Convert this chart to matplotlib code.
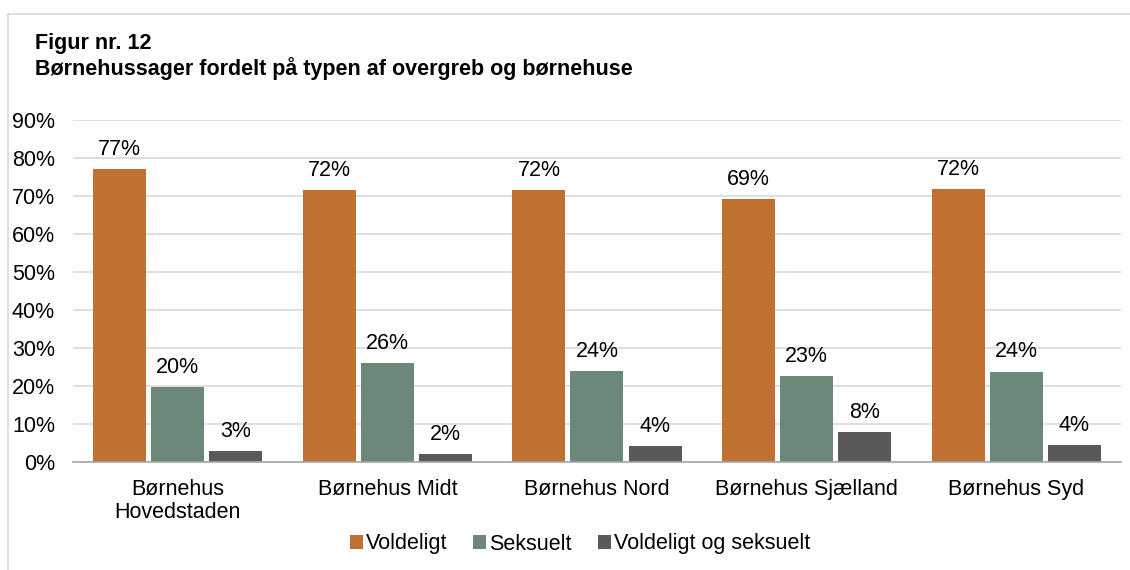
import matplotlib
matplotlib.use("Agg")
import matplotlib.pyplot as plt
import numpy as np
from matplotlib.lines import Line2D

plt.rcParams['font.family'] = ['Liberation Sans', 'DejaVu Sans']

categories = ['Børnehus\nHovedstaden', 'Børnehus Midt', 'Børnehus Nord', 'Børnehus Sjælland', 'Børnehus Syd']
series_names = ['Voldeligt', 'Seksuelt', 'Voldeligt og seksuelt']
voldeligt = [77.2, 71.6, 71.6, 69.2, 71.8]
seksuelt = [19.8, 26.1, 24.0, 22.7, 23.8]
begge = [2.9, 2.1, 4.2, 7.9, 4.5]
labels_v = ['77%', '72%', '72%', '69%', '72%']
labels_s = ['20%', '26%', '24%', '23%', '24%']
labels_b = ['3%', '2%', '4%', '8%', '4%']
colors = ['#C07030', '#6B8878', '#595959']

fs = 15.5

fig = plt.figure(figsize=(11.3, 5.7), dpi=100)
ax = fig.add_axes([0.0646, 0.1895, 0.9274, 0.6], zorder=1)
ax.patch.set_alpha(0)

x = np.arange(len(categories))
w = 0.253
step = 0.277
data = [voldeligt, seksuelt, begge]
labs = [labels_v, labels_s, labels_b]
for i, (vals, lab) in enumerate(zip(data, labs)):
    pos = x + (i - 1) * step
    ax.bar(pos, vals, width=w, color=colors[i], label=series_names[i], zorder=3)
    for p, v, t in zip(pos, vals, lab):
        ax.text(p, v + 2.4, t, ha='center', va='bottom', fontsize=fs, color='#000000')

ax.set_xlim(-0.5, len(categories) - 0.5)
ax.set_ylim(0, 90)
ax.set_yticks(np.arange(0, 91, 10))
ax.set_yticklabels([f'{v}%' for v in range(0, 91, 10)], fontsize=fs)
ax.set_xticks(x)
ax.set_xticklabels(categories, fontsize=fs, linespacing=1.15)
ax.tick_params(axis='x', length=0, pad=12)
ax.tick_params(axis='y', length=0, pad=13)
ax.grid(axis='y', color='#D9D9D9', linewidth=1.2, zorder=0)
for s in ['top', 'right', 'left']:
    ax.spines[s].set_visible(False)
ax.spines['bottom'].set_color('#A6A6A6')
ax.spines['bottom'].set_linewidth(1.2)
ax.spines['bottom'].set_zorder(4)

fig.text(35 / 1130, 1 - 44 / 570, 'Figur nr. 12', fontsize=fs, fontweight='bold', va='center')
fig.text(35 / 1130, 1 - 69 / 570, 'Børnehussager fordelt på typen af overgreb og børnehuse',
         fontsize=fs, fontweight='bold', va='center')

# grey frame (top and left visible)
fig.add_artist(Line2D([8 / 1130, 1], [1 - 14 / 570] * 2, color='#D9D9D9', linewidth=1.2))
fig.add_artist(Line2D([8 / 1130] * 2, [0, 1 - 14 / 570], color='#D9D9D9', linewidth=1.2))

fig.legend(loc='center', bbox_to_anchor=(580 / 1130, 1 - 544 / 570), ncol=3, frameon=False,
           fontsize=fs, handlelength=0.6, handleheight=0.6, handletextpad=0.15, columnspacing=1.2)

fig.savefig('out.png', dpi=100)
